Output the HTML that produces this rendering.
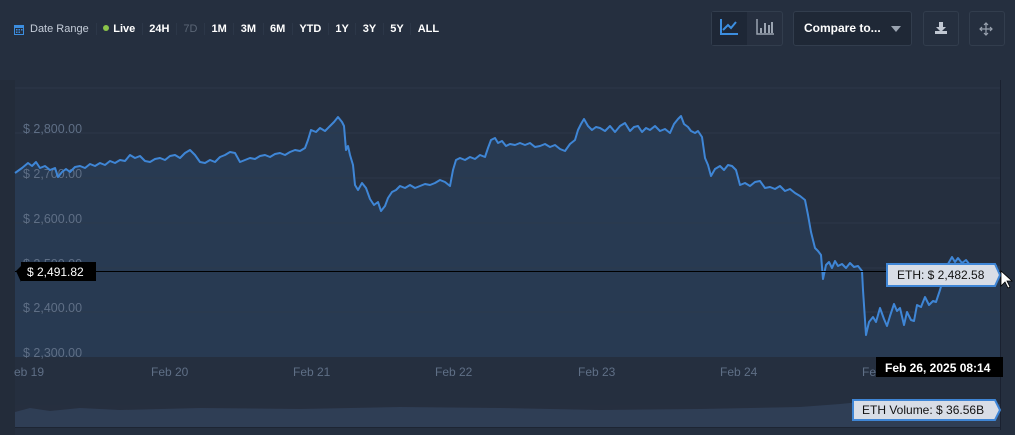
<!DOCTYPE html>
<html><head><meta charset="utf-8"><style>
body{margin:0;width:1015px;height:435px;background:#252f3f;font-family:"Liberation Sans",sans-serif;overflow:hidden;position:relative}
.tb{position:absolute;top:22px;left:14px;font-size:11px;color:#fff;font-weight:bold;display:flex;align-items:center;height:14px}
.tb span{padding:0 6.5px;border-left:1px solid #34405180}
.btn{position:absolute;top:11px;height:35px;border:1px solid #323d4d;border-radius:3px;box-sizing:border-box}
</style></head><body>
<div class="tb">
<svg width="10" height="11" style="margin-right:6px"><rect x="0.5" y="1.5" width="9" height="9" fill="none" stroke="#3c8ee0"/><rect x="0" y="1" width="10" height="3" fill="#3c8ee0"/><g fill="#3c8ee0"><rect x="2" y="5" width="1.5" height="1.5"/><rect x="4.5" y="5" width="1.5" height="1.5"/><rect x="7" y="5" width="1.5" height="1.5"/><rect x="2" y="7.5" width="1.5" height="1.5"/><rect x="4.5" y="7.5" width="1.5" height="1.5"/></g></svg>
<b style="color:#c4ccd8;font-weight:normal;padding-right:7px">Date Range</b>
<span><i style="display:inline-block;width:6px;height:6px;border-radius:3px;background:#8bc34a;margin-right:4px;vertical-align:1px"></i>Live</span>
<span>24H</span><span style="color:#5b6676;font-weight:normal">7D</span><span>1M</span><span>3M</span><span>6M</span><span>YTD</span><span>1Y</span><span>3Y</span><span>5Y</span><span>ALL</span>
</div>
<div class="btn" style="left:711px;width:72px;background:#262f3f"></div>
<div style="position:absolute;left:712px;top:12px;width:35px;height:33px;background:#1e2736"></div>
<svg style="position:absolute;left:719px;top:18px" width="20" height="18"><polyline points="2,1 2,16 19,16" fill="none" stroke="#3c8ee0" stroke-width="2"/><polyline points="4,12 9,7 12,10 17,4" fill="none" stroke="#3c8ee0" stroke-width="2"/></svg>
<svg style="position:absolute;left:755px;top:18px" width="20" height="18"><polyline points="2,1 2,16 19,16" fill="none" stroke="#9aa3b0" stroke-width="1.5"/><g fill="#9aa3b0"><rect x="5" y="10" width="2" height="5"/><rect x="9" y="5" width="2" height="10"/><rect x="13" y="7" width="2" height="8"/><rect x="16" y="4" width="2" height="11"/></g></svg>
<div class="btn" style="left:793px;width:119px;background:#1f2836;color:#fff;font-size:12px;font-weight:bold;line-height:33px;padding-left:10px">Compare to...</div>
<div style="position:absolute;left:891px;top:26px;border:5px solid transparent;border-top:6px solid #9aa3b0"></div>
<div class="btn" style="left:923px;width:36px"></div>
<svg style="position:absolute;left:934px;top:21px" width="14" height="14"><path d="M5 1h4v5h3l-5 5-5-5h3z" fill="#c0c7d2"/><rect x="1" y="10" width="12" height="3" fill="#c0c7d2"/></svg>
<div class="btn" style="left:969px;width:36px"></div>
<svg style="position:absolute;left:979px;top:22px" width="14" height="14" fill="none" stroke="#9aa3b0" stroke-width="1.2"><path d="M7 1v12M1 7h12M5 3l2-2 2 2M5 11l2 2 2-2M3 5l-2 2 2 2M11 5l2 2-2 2"/></svg>

<svg style="position:absolute;left:0;top:0" width="1015" height="435">
<rect x="0" y="80" width="15" height="355" fill="#232c3a"/>
<path d="M15,173 L22,168 28,163 32,166 36,162 40,168 45,166 50,170 55,168 58,177 62,172 66,169 70,172 75,167 80,166 85,168 90,164 95,166 100,163 105,165 110,161 115,163 120,160 125,161 130,155 135,158 140,156 145,161 150,162 155,159 160,158 165,160 170,156 175,155 180,158 185,153 190,150 195,155 200,162 205,163 210,160 215,162 220,157 225,155 230,152 235,153 240,162 245,160 250,158 255,159 260,156 265,155 270,157 275,154 280,153 285,155 290,152 295,150 300,151 305,148 308,140 311,130 316,132 320,128 325,131 330,126 334,122 338,117 342,122 344,126 346,150 348,146 350,155 353,165 355,185 358,190 362,183 366,188 370,199 374,205 378,202 381,211 385,206 388,198 392,192 396,190 400,186 405,188 410,185 415,188 420,186 425,184 430,185 435,183 440,180 445,182 450,186 453,170 456,160 460,158 465,160 470,157 475,159 480,155 485,157 488,148 491,140 495,138 498,143 502,141 506,146 510,144 515,145 520,143 525,145 530,143 535,147 540,146 545,144 550,147 555,145 560,149 565,151 570,144 575,140 578,130 581,124 584,119 588,126 592,130 596,127 600,128 605,131 610,126 615,132 620,126 625,123 630,131 634,127 638,126 642,132 646,128 650,130 655,126 660,131 665,129 670,133 674,124 678,119 681,116 684,124 688,127 691,131 695,133 698,131 702,137 705,158 708,165 711,176 715,169 720,166 724,170 728,165 732,166 736,170 740,185 745,183 750,186 755,182 760,181 765,188 770,187 775,189 780,186 785,191 790,189 795,193 800,196 805,200 808,215 811,232 815,248 818,251 821,255 823,279 826,265 829,262 832,268 835,261 838,266 842,264 846,268 850,263 854,267 858,266 862,271 863,290 866,335 869,322 873,317 876,322 880,308 884,319 887,326 890,316 894,304 897,311 900,308 904,325 907,312 911,320 914,321 917,305 921,307 925,297 929,305 933,301 936,302 940,290 944,276 948,264 952,257 955,262 958,258 962,263 966,260 970,265 975,266 980,264 985,268 990,265 997,266 L1000,266 1000,357 15,357Z" fill="#283a52"/>
<g stroke="#2f3a4b" stroke-width="1" opacity="0.8"><line x1="15" y1="88" x2="1000" y2="88"/><line x1="15" y1="133" x2="1000" y2="133"/><line x1="15" y1="178" x2="1000" y2="178"/><line x1="15" y1="223" x2="1000" y2="223"/><line x1="15" y1="268" x2="1000" y2="268"/><line x1="15" y1="312" x2="1000" y2="312"/></g>
<g font-size="12.5" fill="#5f6f86" font-family="Liberation Sans"><text x="23" y="133">$ 2,800.00</text><text x="23" y="178">$ 2,700.00</text><text x="23" y="223">$ 2,600.00</text><text x="23" y="268">$ 2,500.00</text><text x="23" y="312">$ 2,400.00</text><text x="23" y="357">$ 2,300.00</text></g>
<path d="M15,173 L22,168 28,163 32,166 36,162 40,168 45,166 50,170 55,168 58,177 62,172 66,169 70,172 75,167 80,166 85,168 90,164 95,166 100,163 105,165 110,161 115,163 120,160 125,161 130,155 135,158 140,156 145,161 150,162 155,159 160,158 165,160 170,156 175,155 180,158 185,153 190,150 195,155 200,162 205,163 210,160 215,162 220,157 225,155 230,152 235,153 240,162 245,160 250,158 255,159 260,156 265,155 270,157 275,154 280,153 285,155 290,152 295,150 300,151 305,148 308,140 311,130 316,132 320,128 325,131 330,126 334,122 338,117 342,122 344,126 346,150 348,146 350,155 353,165 355,185 358,190 362,183 366,188 370,199 374,205 378,202 381,211 385,206 388,198 392,192 396,190 400,186 405,188 410,185 415,188 420,186 425,184 430,185 435,183 440,180 445,182 450,186 453,170 456,160 460,158 465,160 470,157 475,159 480,155 485,157 488,148 491,140 495,138 498,143 502,141 506,146 510,144 515,145 520,143 525,145 530,143 535,147 540,146 545,144 550,147 555,145 560,149 565,151 570,144 575,140 578,130 581,124 584,119 588,126 592,130 596,127 600,128 605,131 610,126 615,132 620,126 625,123 630,131 634,127 638,126 642,132 646,128 650,130 655,126 660,131 665,129 670,133 674,124 678,119 681,116 684,124 688,127 691,131 695,133 698,131 702,137 705,158 708,165 711,176 715,169 720,166 724,170 728,165 732,166 736,170 740,185 745,183 750,186 755,182 760,181 765,188 770,187 775,189 780,186 785,191 790,189 795,193 800,196 805,200 808,215 811,232 815,248 818,251 821,255 823,279 826,265 829,262 832,268 835,261 838,266 842,264 846,268 850,263 854,267 858,266 862,271 863,290 866,335 869,322 873,317 876,322 880,308 884,319 887,326 890,316 894,304 897,311 900,308 904,325 907,312 911,320 914,321 917,305 921,307 925,297 929,305 933,301 936,302 940,290 944,276 948,264 952,257 955,262 958,258 962,263 966,260 970,265 975,266 980,264 985,268 990,265 997,266"
 fill="none" stroke="#3f86d6" stroke-width="2" stroke-linejoin="round"/>
<line x1="15" y1="271.5" x2="1000" y2="271.5" stroke="#000" stroke-width="1"/>
<line x1="1000.5" y1="80" x2="1000.5" y2="430" stroke="#1a2130" stroke-width="1"/>
<g font-size="12" fill="#5f6f86"><text x="14" y="376">eb 19</text><text x="151" y="376">Feb 20</text><text x="293" y="376">Feb 21</text><text x="435" y="376">Feb 22</text><text x="578" y="376">Feb 23</text><text x="720" y="376">Feb 24</text><text x="862" y="376">Feb</text></g>
<rect x="15" y="405" width="985" height="22" fill="#262f3f"/>
<path d="M15,427 L15,412 30,408 50,411 80,408 120,410 200,408 300,409 400,407 500,408 600,410 700,409 800,407 840,404 870,401 950,403 1000,404 L1000,427Z" fill="#2f3e55"/>
<line x1="15" y1="427.5" x2="1000" y2="427.5" stroke="#1d2533"/>
<path d="M16,271 L21,266 V282 Z" fill="#000"/>
<rect x="21" y="262" width="75" height="19" fill="#000"/>
<text x="27" y="276" font-size="12" fill="#fff">$ 2,491.82</text>
<path d="M887,264 H995 L1000,275 995,286 H887Z" fill="#d8dde6" stroke="#3f86d6" stroke-width="2"/>
<text x="897" y="279" font-size="12" fill="#111">ETH: $ 2,482.58</text>
<rect x="876" y="357" width="127" height="20" fill="#000"/>
<text x="885" y="372" font-size="12" fill="#fff" font-weight="bold">Feb 26, 2025 08:14</text>
<path d="M853,400 H995 L1000,410 995,420 H853Z" fill="#d8dde6" stroke="#3f86d6" stroke-width="2"/>
<text x="862" y="414" font-size="12" fill="#111">ETH Volume: $ 36.56B</text>
<path d="M1001,271 v15 l4,-4 3,6 2,-1 -3,-6 h5z" fill="#fff" stroke="#000" stroke-width="0.8"/>
</svg>
</body></html>
